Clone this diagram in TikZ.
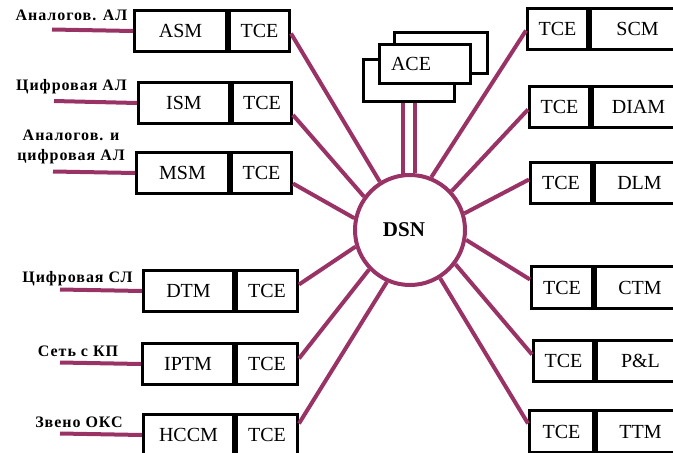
\documentclass[tikz,border=0pt]{standalone}
\usepackage{fontspec}
\setmainfont{Liberation Serif}
\newfontfamily\lblfont[LetterSpace=6]{Liberation Serif}
\definecolor{spoke}{RGB}{153,51,102}
\begin{document}
\begin{tikzpicture}[x=1pt,y=-1pt,
  box/.style={draw=black, line width=3pt, fill=white, minimum height=41pt, inner sep=0pt,
              font=\fontsize{20}{22}\selectfont},
  blank/.style={draw=black, line width=3pt, fill=white, inner sep=0pt, minimum height=41pt, anchor=north west},
  hub/.style={circle, draw=spoke, line width=4pt, fill=white, minimum size=110pt, inner sep=0pt},
  wire/.style={draw=spoke, line width=4pt},
  lbl/.style={font=\lblfont\bfseries\fontsize{16}{20}\selectfont, inner sep=0pt, align=center}]
\useasboundingbox (0,0) rectangle (673,453);
% ---- left boxes
\node[box, anchor=north west, minimum width=92pt] (asm) at (133,9) {ASM};
\node[box, anchor=north west, minimum width=60pt] (asmT) at (asm.north east) {TCE};
\node[box, anchor=north west, minimum width=91pt] (ism) at (137,81) {ISM};
\node[box, anchor=north west, minimum width=59pt] (ismT) at (ism.north east) {TCE};
\node[box, anchor=north west, minimum width=92pt] (msm) at (135,151) {MSM};
\node[box, anchor=north west, minimum width=60pt] (msmT) at (msm.north east) {TCE};
\node[box, anchor=north west, minimum width=90pt] (dtm) at (142,269) {DTM};
\node[box, anchor=north west, minimum width=61pt] (dtmT) at (dtm.north east) {TCE};
\node[box, anchor=north west, minimum width=91pt] (iptm) at (141,342) {IPTM};
\node[box, anchor=north west, minimum width=61pt] (iptmT) at (iptm.north east) {TCE};
\node[box, anchor=north west, minimum width=90pt] (hccm) at (142,413) {HCCM};
\node[box, anchor=north west, minimum width=61pt] (hccmT) at (hccm.north east) {TCE};
% ---- right boxes
\node[box, anchor=north west, minimum width=60pt] (scmT) at (526,7) {TCE};
\node[box, anchor=north west, minimum width=94pt] (scm) at (scmT.north east) {SCM};
\node[box, anchor=north west, minimum width=60pt] (diamT) at (528,85) {TCE};
\node[box, anchor=north west, minimum width=92pt] (diam) at (diamT.north east) {DIAM};
\node[box, anchor=north west, minimum width=61pt] (dlmT) at (529,161) {TCE};
\node[box, anchor=north west, minimum width=90pt] (dlm) at (dlmT.north east) {DLM};
\node[box, anchor=north west, minimum width=61pt, minimum height=42pt] (ctmT) at (530,265) {TCE};
\node[box, anchor=north west, minimum width=89pt, minimum height=42pt] (ctm) at (ctmT.north east) {CTM};
\node[box, anchor=north west, minimum width=60pt] (plT) at (532,339) {TCE};
\node[box, anchor=north west, minimum width=88pt] (pl) at (plT.north east) {P\&L};
\node[box, anchor=north west, minimum width=64pt, minimum height=42pt] (ttmT) at (528,409) {TCE};
\node[box, anchor=north west, minimum width=88pt, minimum height=42pt] (ttm) at (ttmT.north east) {TTM};
% ---- ACE stack
\node[blank, minimum width=93pt] (aceB) at (393,31) {};
\node[blank, minimum width=91pt, minimum height=42pt] (aceF) at (362,58) {};
\node[blank, minimum width=91pt, minimum height=39pt] (ace) at (378,43) {};
\node[font=\fontsize{20}{22}\selectfont, inner sep=0pt] (aceL) at ([xshift=-14pt]ace.center) {ACE};
% ---- hub
\node[hub] (dsn) at (410,230) {};
\node[font=\bfseries\fontsize{21}{24}\selectfont, inner sep=0pt] (dsnL) at ([xshift=-6pt]dsn.center) {DSN};
% ---- ACE links
\draw[wire] ([xshift=-6pt]aceF.south) -- ([xshift=-6pt]aceF.south |- dsn.99);
\draw[wire] ([xshift=6pt]aceF.south) -- ([xshift=6pt]aceF.south |- dsn.86);
% ---- spokes
\draw[wire] ([yshift=-2.5pt]asmT.east) -- (dsn.122);
\draw[wire] ([yshift=-12pt]ismT.east) -- (dsn.144);
\draw[wire] ([yshift=-10.5pt]msmT.east) -- (dsn.168);
\draw[wire] ([yshift=6.5pt]dtmT.east) -- (dsn.197);
\draw[wire] ([yshift=5.5pt]iptmT.east) -- (dsn.224);
\draw[wire] ([yshift=11.5pt]hccmT.east) -- (dsn.246);
\draw[wire] ([yshift=-1.5pt]scmT.west) -- (dsn.68);
\draw[wire] ([yshift=-2.5pt]diamT.west) -- (dsn.43);
\draw[wire] ([yshift=3.5pt]dlmT.west) -- (dsn.17.5);
\draw[wire] ([yshift=8pt]ctmT.west) -- (dsn.-10);
\draw[wire] ([yshift=6.5pt]plT.west) -- (dsn.-37);
\draw[wire] ([yshift=8pt]ttmT.west) -- (dsn.-58);
% ---- input lines
\coordinate (e1) at (52,29.5);
\coordinate (e2) at (54,101);
\coordinate (e3) at (53,171.5);
\coordinate (e4) at (60,289.5);
\coordinate (e5) at (60,362.5);
\coordinate (e6) at (60,433.5);
\draw[wire] (e1) -- (asm.west);
\draw[wire] (e2) -- (ism.west);
\draw[wire] (e3) -- (msm.west);
\draw[wire] (e4) -- (dtm.west);
\draw[wire] (e5) -- (iptm.west);
\draw[wire] (e6) -- (hccm.west);
% ---- labels
\node[lbl] (l1) at (71.5,15) {Аналогов. АЛ};
\node[lbl] (l2) at (71.5,87) {Цифровая АЛ};
\node[lbl] (l3) at (71,147) {Аналогов. и\\[0pt]цифровая АЛ};
\node[lbl] (l4) at (77.5,279) {Цифровая СЛ};
\node[lbl] (l5) at (78,351) {Сеть с КП};
\node[lbl] (l6) at (79,422) {Звено ОКС};
\end{tikzpicture}
\end{document}
